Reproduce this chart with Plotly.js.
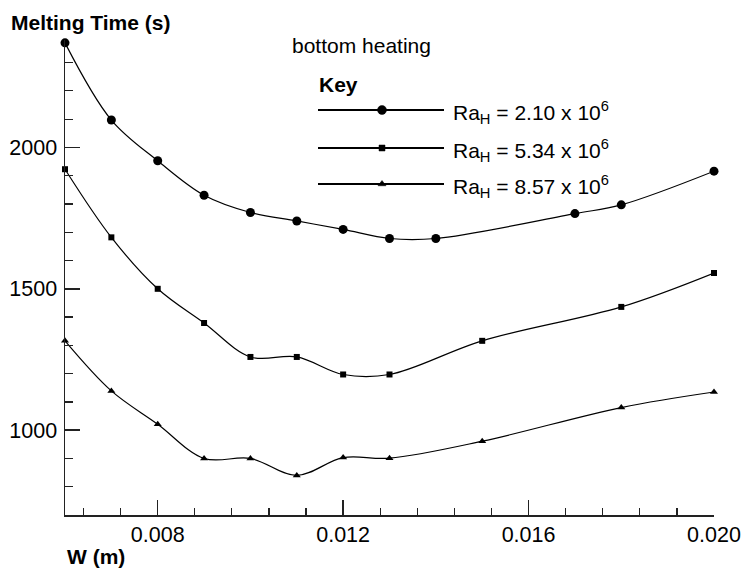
<!DOCTYPE html>
<html>
<head>
<meta charset="utf-8">
<script src="https://cdn.plot.ly/plotly-3.0.1.min.js"></script>
<style>html,body{margin:0;padding:0;background:#fff;}#chart{width:747px;height:571px;}</style>
</head>
<body>
<div id="chart"></div>
<script>
// Data
const seriesNames = ["Ra<sub>H</sub> = 2.10 x 10<sup>6</sup>", "Ra<sub>H</sub> = 5.34 x 10<sup>6</sup>", "Ra<sub>H</sub> = 8.57 x 10<sup>6</sup>"];
const xCircle = [0.006, 0.007, 0.008, 0.009, 0.010, 0.011, 0.012, 0.013, 0.014, 0.017, 0.018, 0.020];
const yCircle = [2370, 2097, 1953, 1831, 1770, 1740, 1710, 1678, 1678, 1766, 1797, 1916];
const xSquare = [0.006, 0.007, 0.008, 0.009, 0.010, 0.011, 0.012, 0.013, 0.015, 0.018, 0.020];
const ySquare = [1923, 1682, 1500, 1379, 1259, 1259, 1197, 1197, 1316, 1436, 1556];
const xTriangle = [0.006, 0.007, 0.008, 0.009, 0.010, 0.011, 0.012, 0.013, 0.015, 0.018, 0.020];
const yTriangle = [1316, 1139, 1021, 900, 900, 840, 903, 901, 961, 1080, 1135];
const xTickVals = [0.008, 0.012, 0.016, 0.020];
const xTickText = ["0.008", "0.012", "0.016", "0.020"];
const yTickVals = [1000, 1500, 2000];
const yTickText = ["1000", "1500", "2000"];

const FONT = "Liberation Sans, Arial, Helvetica, sans-serif";
const symbols = ["circle", "square", "triangle-up"];
const msizes = [9, 6, 7];
const lineColor = "#000";

const xs = [xCircle, xSquare, xTriangle];
const ys = [yCircle, ySquare, yTriangle];

const traces = xs.map((x, i) => ({
  type: "scatter", mode: "lines+markers", x: x, y: ys[i], name: seriesNames[i],
  line: {shape: "spline", smoothing: 1, color: lineColor, width: 1.2},
  marker: {symbol: symbols[i], size: msizes[i], color: lineColor},
  cliponaxis: false, showlegend: false, hoverinfo: "skip"
}));

// Custom key (legend) drawn on an overlay axis measured in page pixels
const keyRows = [110, 148, 184];
const keyLineX0 = 318, keyLineX1 = 444, keyMarkX = 382, keyTextX = 451;
keyRows.forEach((r, i) => traces.push({
  type: "scatter", mode: "markers", xaxis: "x2", yaxis: "y2",
  x: [keyMarkX], y: [r],
  marker: {symbol: symbols[i], size: msizes[i], color: lineColor, opacity: 1, line: {color: lineColor, width: 0.5}},
  cliponaxis: false, showlegend: false, hoverinfo: "skip"
}));

const shapes = keyRows.map(r => ({
  type: "line", xref: "x2", yref: "y2", x0: keyLineX0, x1: keyLineX1, y0: r, y1: r,
  layer: "below", line: {color: lineColor, width: 2}
}));

// page pixel -> paper coordinates (plot area 65..714 x 40..515)
const px = v => (v - 65) / 649;
const py = v => (515 - v) / 475;

const annotations = [
  {xref: "paper", yref: "paper", x: px(9), y: py(22), text: "<b>Melting Time (s)</b>", showarrow: false, xanchor: "left", yanchor: "middle", font: {family: FONT, size: 21, color: "#000"}},
  {xref: "paper", yref: "paper", x: px(65), y: py(556), text: "<b>W (m)</b>", showarrow: false, xanchor: "left", yanchor: "middle", font: {family: FONT, size: 21, color: "#000"}},
  {xref: "x2", yref: "y2", x: 290, y: 45, text: "bottom heating", showarrow: false, xanchor: "left", yanchor: "middle", font: {family: FONT, size: 21, color: "#000"}},
  {xref: "x2", yref: "y2", x: 317, y: 84, text: "<b>Key</b>", showarrow: false, xanchor: "left", yanchor: "middle", font: {family: FONT, size: 21, color: "#000"}}
];
keyRows.forEach((r, i) => annotations.push({
  xref: "x2", yref: "y2", x: keyTextX, y: r + 2, text: seriesNames[i], showarrow: false,
  xanchor: "left", yanchor: "middle", font: {family: FONT, size: 21, color: "#000"}
}));

const axisColor = "#222";
const layout = {
  width: 747, height: 571,
  margin: {l: 65, r: 33, t: 40, b: 56, pad: 0},
  paper_bgcolor: "#fff", plot_bgcolor: "#fff",
  font: {family: FONT, size: 21, color: "#000"},
  showlegend: false,
  xaxis: {
    range: [0.006, 0.020], showgrid: false, zeroline: false,
    showline: true, linecolor: axisColor, linewidth: 1.5,
    tickmode: "array", tickvals: xTickVals, ticktext: xTickText,
    ticks: "inside", ticklen: 15, tickwidth: 1.5, tickcolor: axisColor,
    ticklabelstandoff: 0,
    minor: {ticks: "inside", ticklen: 7, tickwidth: 1.2, tickcolor: axisColor, dtick: 0.0008, tick0: 0.008, showgrid: false},
    tickfont: {family: FONT, size: 21.5, color: "#000"}
  },
  yaxis: {
    range: [700, 2380], showgrid: false, zeroline: false,
    showline: true, linecolor: axisColor, linewidth: 1.5,
    tickmode: "array", tickvals: yTickVals, ticktext: yTickText,
    ticks: "inside", ticklen: 15, tickwidth: 1.5, tickcolor: axisColor,
    ticklabelstandoff: 2,
    minor: {ticks: "inside", ticklen: 8, tickwidth: 1.2, tickcolor: axisColor, dtick: 100, tick0: 0, showgrid: false},
    tickfont: {family: FONT, size: 21.5, color: "#000"}
  },
  xaxis2: {overlaying: "x", range: [65, 714], visible: false, fixedrange: true},
  yaxis2: {overlaying: "y", range: [515, 40], visible: false, fixedrange: true},
  shapes: shapes,
  annotations: annotations
};

Plotly.newPlot("chart", traces, layout, {staticPlot: true, displayModeBar: false});
</script>
</body>
</html>
